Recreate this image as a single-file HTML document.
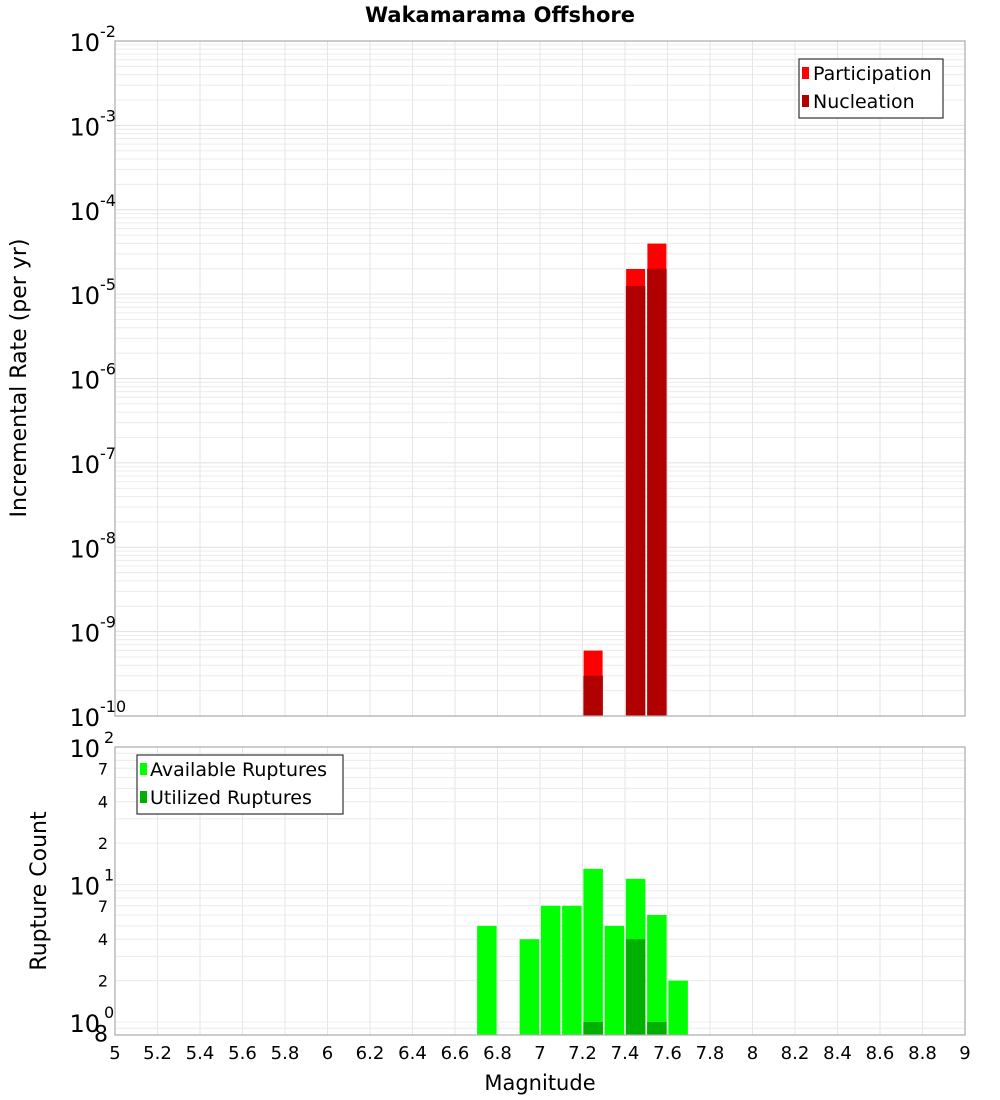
<!DOCTYPE html>
<html><head><meta charset="utf-8"><style>
body{margin:0;background:#fff;}
svg{display:block;font-family:"DejaVu Sans","Liberation Sans",sans-serif;}
</style></head><body>
<svg id="chart" width="1000" height="1100" xmlns="http://www.w3.org/2000/svg">
<text x="500" y="22" text-anchor="middle" font-size="21" font-weight="bold">Wakamarama Offshore</text>
<g id="topPlot"></g>
<g id="botPlot"></g>
<text transform="translate(26,378) rotate(-90)" text-anchor="middle" font-size="22">Incremental Rate (per yr)</text>
<text transform="translate(46,891) rotate(-90)" text-anchor="middle" font-size="22">Rupture Count</text>
<text x="540" y="1090" text-anchor="middle" font-size="21">Magnitude</text>
<g>
<rect x="799" y="59" width="144" height="59" fill="#fff" stroke="#333" stroke-width="1.2"/>
<rect x="802" y="67" width="7" height="12" fill="#ff0000"/>
<text x="813" y="80" font-size="19">Participation</text>
<rect x="802" y="95" width="7" height="12" fill="#b00000"/>
<text x="813" y="108" font-size="19">Nucleation</text>
</g>
<g>
<rect x="137" y="755" width="206" height="59" fill="#fff" stroke="#333" stroke-width="1.2"/>
<rect x="140" y="763" width="7" height="12" fill="#00ff00"/>
<text x="150" y="776" font-size="19">Available Ruptures</text>
<rect x="140" y="791" width="7" height="12" fill="#00b000"/>
<text x="150" y="804" font-size="19">Utilized Ruptures</text>
</g>
</svg>
<script>
const magBins=[6.75,6.95,7.05,7.15,7.25,7.35,7.45,7.55,7.65];
const available=[5,4,7,7,13,5,11,6,2];
const utilized=[0,0,0,0,1,0,4,1,0];
const rateMags=[7.25,7.45,7.55];
const participation=[6e-10,2e-5,4e-5];
const nucleation=[3e-10,1.25e-5,2e-5];
const xTicks=[5,5.2,5.4,5.6,5.8,6,6.2,6.4,6.6,6.8,7,7.2,7.4,7.6,7.8,8,8.2,8.4,8.6,8.8,9];
const topExps=[-2,-3,-4,-5,-6,-7,-8,-9,-10];
const botMinorLabels=[[70,'7'],[40,'4'],[20,'2'],[7,'7'],[4,'4'],[2,'2'],[0.8,'8']];

const NS='http://www.w3.org/2000/svg';
const X0=115,X1=965;
const xs=m=>X0+(m-5)/4*(X1-X0);
const T0=41,T1=716;
const ty=v=>T0+(-2-Math.log10(v))/8*(T1-T0);
const B0=747,B1=1035;
const by=v=>B0+(2-Math.log10(v))*137.5;
function mk(tag,attrs,parent){const e=document.createElementNS(NS,tag);for(const k in attrs)e.setAttribute(k,attrs[k]);parent.appendChild(e);return e;}
const topG=document.getElementById('topPlot'),botG=document.getElementById('botPlot'),svgEl=document.getElementById('chart');

mk('rect',{x:X0,y:T0,width:X1-X0,height:T1-T0,fill:'#fff'},topG);
for(let e=-10;e<-2;e++)for(let k=1;k<=9;k++){const y=ty(k*Math.pow(10,e));mk('line',{x1:X0,x2:X1,y1:y,y2:y,stroke:k==1?'#e0e0e0':'#ececec','stroke-width':1},topG);}
for(const t of xTicks){const x=xs(t);mk('line',{x1:x,x2:x,y1:T0,y2:T1,stroke:'#e6e6e6'},topG);mk('line',{x1:x,x2:x,y1:B0,y2:B1,stroke:'#e6e6e6'},botG);}
for(let e=-1;e<2;e++)for(let k=1;k<=9;k++){const v=k*Math.pow(10,e);const y=by(v);if(y>B1||y<B0)continue;mk('line',{x1:X0,x2:X1,y1:y,y2:y,stroke:'#ececec'},botG);}

const bw=19.5;
rateMags.forEach((m,i)=>{
 const x=xs(m)-bw/2;
 let r=mk('rect',{x:x,y:ty(participation[i]),width:bw,height:T1-ty(participation[i]),fill:'#ff0000',stroke:'#fff','stroke-width':0.5},topG);
 
 
 let n=mk('rect',{x:x,y:ty(nucleation[i]),width:bw,height:T1-ty(nucleation[i]),fill:'#b00000'},topG);
 
 
});
magBins.forEach((m,i)=>{
 const x=xs(m)-bw/2;
 let a=mk('rect',{x:x,y:by(available[i]),width:bw,height:B1-by(available[i]),fill:'#00ff00'},botG);
 
 
 if(utilized[i]>0){
 let u=mk('rect',{x:x,y:by(utilized[i]),width:bw,height:B1-by(utilized[i]),fill:'#00b000'},botG);
 
 
 }
});
mk('rect',{x:X0,y:T0,width:X1-X0,height:T1-T0,fill:'none',stroke:'#aaa','stroke-width':1.2},topG);
mk('rect',{x:X0,y:B0,width:X1-X0,height:B1-B0,fill:'none',stroke:'#aaa','stroke-width':1.2},botG);

topExps.forEach(e=>{
 const y=ty(Math.pow(10,e));
 const t=mk('text',{x:100,y:y+10,'text-anchor':'end','font-size':24},svgEl);
 t.textContent='10';
 
 
 const s=mk('text',{x:100,y:y-4,'font-size':16},svgEl);
 s.textContent=String(e);
 
 
});
[2,1,0].forEach(e=>{
 const y=by(Math.pow(10,e));
 const t=mk('text',{x:100,y:y+10,'text-anchor':'end','font-size':24},svgEl);
 t.textContent='10';
 
 
 const s=mk('text',{x:104,y:y-4,'font-size':16},svgEl);
 s.textContent=String(e);
 
 
});
botMinorLabels.forEach(([v,l])=>{
 const y=by(v);
 const t=mk('text',{x:108,y:y+6,'text-anchor':'end','font-size':v<1?22:16},svgEl);
 t.textContent=l;
 
 
});
xTicks.forEach(m=>{
 const t=mk('text',{x:xs(m),y:1059,'text-anchor':'middle','font-size':18},svgEl);
 t.textContent=String(m);
 
 
});
</script>
</body></html>
